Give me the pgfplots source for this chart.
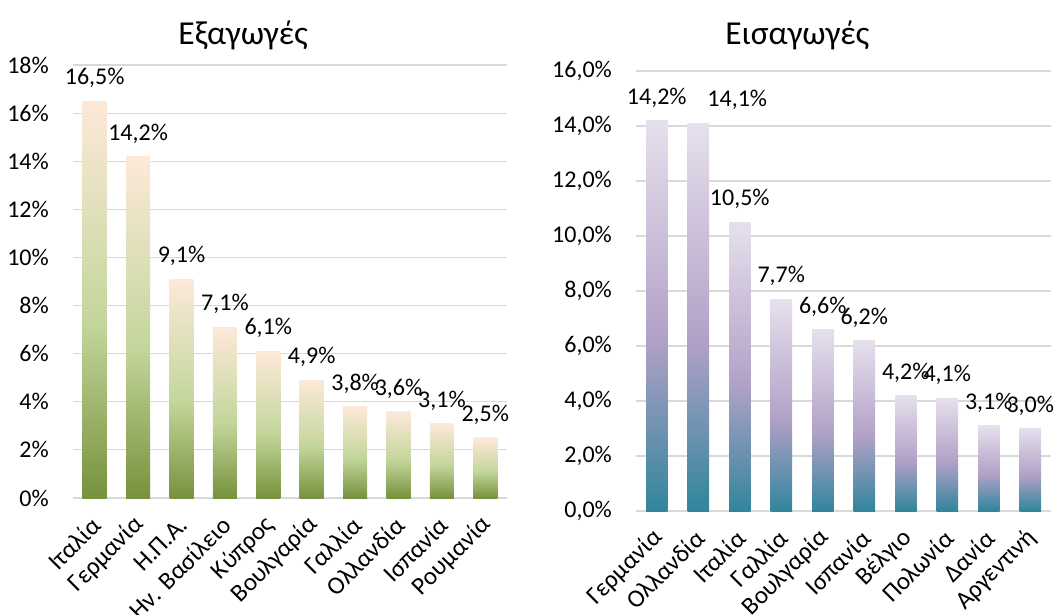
\documentclass[border=0pt]{standalone}
\usepackage{fontspec}
\setmainfont{Carlito}
\usepackage{pgfplots}
\pgfplotsset{compat=1.18}
\usepackage{pgfplotstable}

\definecolor{gbot}{HTML}{76923C}
\definecolor{gmid}{HTML}{C3D69B}
\definecolor{gtop}{HTML}{FDE9D9}
\definecolor{pbot}{HTML}{31859C}
\definecolor{pmid}{HTML}{B2A1C7}
\definecolor{ptop}{HTML}{E6E0EC}
\definecolor{gridgray}{HTML}{D9D9D9}

\pgfdeclareverticalshading{greenbar}{100bp}{color(0bp)=(gbot); color(25bp)=(gbot); color(47bp)=(gmid); color(75bp)=(gtop); color(100bp)=(gtop)}
\pgfdeclareverticalshading{purplebar}{100bp}{color(0bp)=(pbot); color(25bp)=(pbot); color(47bp)=(pmid); color(75bp)=(ptop); color(100bp)=(ptop)}

\pgfplotstableread{
x y lab dx
0 16.5 {16,5\%} 0
1 14.2 {14,2\%} 0
2 9.1 {9,1\%} 0
3 7.1 {7,1\%} 0
4 6.1 {6,1\%} 0
5 4.9 {4,9\%} 0
6 3.8 {3,8\%} 0
7 3.6 {3,6\%} 0
8 3.1 {3,1\%} 0
9 2.5 {2,5\%} 0
}\exports

\pgfplotstableread{
x y lab dx
0 14.2 {14,2\%} 0
1 14.1 {14,1\%} 39
2 10.5 {10,5\%} 0
3 7.7 {7,7\%} 0
4 6.6 {6,6\%} 0
5 6.2 {6,2\%} 0
6 4.2 {4,2\%} 0
7 4.1 {4,1\%} 0
8 3.1 {3,1\%} 0
9 3.0 {3,0\%} 0
}\imports

\pgfplotsset{
  mychart/.style={
    scale only axis,
    anchor=south west,
    axis line style={draw=none},
    major tick length=0pt,
    ymajorgrids,
    grid style={draw=gridgray, line width=1.2pt},
    xmin=-0.5, xmax=9.5, ymin=0,
    xtick={0,...,9},
    clip=false,
    yticklabel style={font=\fontsize{24}{28}\selectfont, text=black, anchor=east, inner sep=0pt, xshift=-24pt},
    xticklabel style={font=\fontsize{25}{29}\selectfont, text=black, anchor=east, inner sep=0pt, yshift=-23pt, xshift=2pt, rotate=45},
    title style={font=\fontsize{33.5}{38}\selectfont, anchor=base},
    nodes near coords,
    point meta=explicit symbolic,
    every node near coord/.append style={font=\fontsize{24}{28}\selectfont, text=black, anchor=center, yshift=23pt},
  },
}

\begin{document}
\begin{tikzpicture}[x=1pt,y=1pt]
\useasboundingbox (0,0) rectangle (1056,614);
\begin{axis}[mychart,
  at={(73pt,116pt)}, width=434pt, height=433pt,
  ymax=18, ytick={0,2,...,18},
  yticklabels={0\%,2\%,4\%,6\%,8\%,10\%,12\%,14\%,16\%,18\%},
  xticklabels={Ιταλία,Γερμανία,Η.Π.Α.,Ην. Βασίλειο,Κύπρος,Βουλγαρία,Γαλλία,Ολλανδία,Ισπανία,Ρουμανία},
  title={Εξαγωγές},
  title style={at={(0.392,1.034)}},
]
\pgfplotsinvokeforeach{0,...,9}{
\addplot[ybar, bar width=24pt, draw=none, shade, shading=greenbar,
  x filter/.expression={abs(x-#1)<0.1 ? x : nan},
  visualization depends on={\thisrow{dx} \as \dx},
  every node near coord/.append style={xshift=\dx}]
  table[x=x, y=y, meta=lab] {\exports};
}
\end{axis}
\begin{axis}[mychart,
  at={(636pt,103pt)}, width=415pt, height=440pt,
  ymax=16, ytick={0,2,...,16},
  yticklabels={{0,0\%},{2,0\%},{4,0\%},{6,0\%},{8,0\%},{10,0\%},{12,0\%},{14,0\%},{16,0\%}},
  xticklabels={Γερμανία,Ολλανδία,Ιταλία,Γαλλία,Βουλγαρία,Ισπανία,Βέλγιο,Πολωνία,Δανία,Αργεντινή},
  title={Εισαγωγές},
  title style={at={(0.389,1.047)}},
]
\pgfplotsinvokeforeach{0,...,9}{
\addplot[ybar, bar width=21.5pt, draw=none, shade, shading=purplebar,
  x filter/.expression={abs(x-#1)<0.1 ? x : nan},
  visualization depends on={\thisrow{dx} \as \dx},
  every node near coord/.append style={xshift=\dx}]
  table[x=x, y=y, meta=lab] {\imports};
}
\end{axis}
\end{tikzpicture}
\end{document}
